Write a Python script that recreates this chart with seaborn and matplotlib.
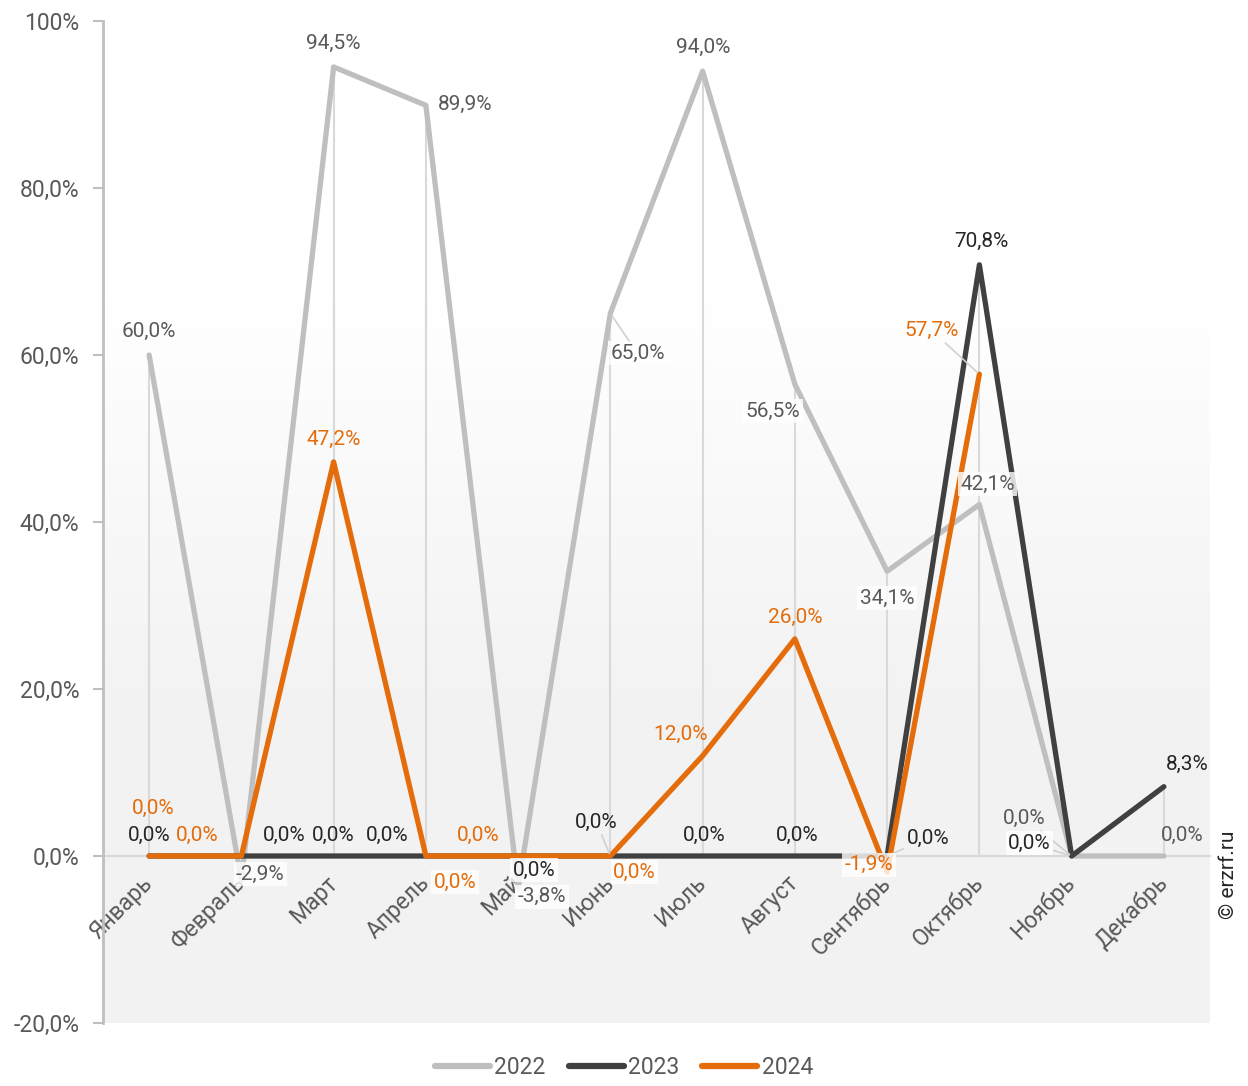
import numpy as np
import pandas as pd
import matplotlib
matplotlib.use("Agg")
import matplotlib.pyplot as plt
import seaborn as sns
from matplotlib.colors import LinearSegmentedColormap
from matplotlib.lines import Line2D

months = ["Январь", "Февраль", "Март", "Апрель", "Май", "Июнь",
          "Июль", "Август", "Сентябрь", "Октябрь", "Ноябрь", "Декабрь"]
years = ["2022", "2023", "2024"]
vals_2022 = [60.0, -2.9, 94.5, 89.9, -3.8, 65.0, 94.0, 56.5, 34.1, 42.1, 0.0, 0.0]
vals_2023 = [0.0, 0.0, 0.0, 0.0, 0.0, 0.0, 0.0, 0.0, 0.0, 70.8, 0.0, 8.3]
vals_2024 = [0.0, 0.0, 47.2, 0.0, 0.0, 0.0, 12.0, 26.0, -1.9, 57.7, np.nan, np.nan]
ytick_vals = [-20, 0, 20, 40, 60, 80, 100]
ytick_labels = ["-20,0%", "0,0%", "20,0%", "40,0%", "60,0%", "80,0%", "100%"]

line_colors = {"2022": "#bfbfbf", "2023": "#404040", "2024": "#e46c0a"}
label_colors = {"2022": "#595959", "2023": "#262626", "2024": "#e46c0a"}

# label offsets in pixels (dx, dy up) from each point
offsets = {
    "2022": [(0, 24), (19, 6), (0, 24), (39, 1), (24, -9), (27, -40),
             (1, 24), (-22, -27), (0, -27), (8, 20), (-47, 38), (18, 21)],
    "2023": [(0, 21), (43, 21), (0, 21), (-39, 21), (16, -14), (-14, 34),
             (2, 21), (2, 21), (41, 18), (2, 23), (-42, 13), (23, 22)],
    "2024": [(4, 48), (-44, 21), (0, 22), (29, -26), (-40, 21), (24, -16),
             (-22, 21), (0, 22), (-18, 7), (-48, 44), None, None],
}
boxed = {("2022", 1), ("2022", 4), ("2022", 5), ("2022", 7), ("2022", 8), ("2022", 9),
         ("2023", 4), ("2023", 10), ("2024", 3), ("2024", 5), ("2024", 8)}
leaders = {("2022", 5), ("2022", 10), ("2023", 5), ("2023", 8), ("2023", 10), ("2024", 9)}

series = {"2022": vals_2022, "2023": vals_2023, "2024": vals_2024}

sns.set_theme(style="white")
plt.rcParams["font.family"] = ["Roboto", "DejaVu Sans"]

rows = []
for y in years:
    for i, v in enumerate(series[y]):
        rows.append({"pos": i, "year": y, "value": v})
df = pd.DataFrame(rows).dropna()

fig = plt.figure(figsize=(12.48, 10.86), dpi=100)
ax = fig.add_axes([103 / 1248, 1 - 1023 / 1086, (1210 - 103) / 1248, (1023 - 21) / 1086])

# background gradient of the plot area
cmap = LinearSegmentedColormap.from_list("bg", [(0, "#f2f2f2"), (0.3, "#f2f2f2"), (0.72, "#ffffff"), (1, "#ffffff")])
grad = np.linspace(0, 1, 256).reshape(-1, 1)
ax.imshow(grad, extent=[-0.5, 11.5, -20, 100], origin="lower", aspect="auto", cmap=cmap, zorder=0)

# drop lines
for i in range(len(months)):
    m = np.nanmax([series[y][i] for y in years])
    if m > 0:
        ax.vlines(i, 0, m, color="#d9d9d9", lw=1.5, zorder=1)

sns.lineplot(data=df, x="pos", y="value", hue="year", palette=line_colors,
             linewidth=3.8, ax=ax, legend=False, sort=False, zorder=3,
             solid_capstyle="round", solid_joinstyle="round")

for y in years:
    for i, v in enumerate(series[y]):
        if np.isnan(v):
            continue
        dx, dy = offsets[y][i]
        txt = f"{v:.1f}%".replace(".", ",")
        kw = {}
        if (y, i) in boxed:
            kw["bbox"] = dict(boxstyle="square,pad=0.12", fc="white", ec="none", alpha=0.8)
        if (y, i) in leaders:
            kw["arrowprops"] = dict(arrowstyle="-", color="#d0d0d0", lw=1.2, shrinkA=0, shrinkB=2)
        ax.annotate(txt, (i, v), xytext=(dx, dy), textcoords="offset pixels",
                    ha="center", va="center", fontsize=15, color=label_colors[y],
                    zorder=5, **kw)

ax.spines["top"].set_visible(False)
ax.spines["right"].set_visible(False)
ax.spines["bottom"].set_position(("data", 0))
ax.spines["bottom"].set_color("#d9d9d9")
ax.spines["bottom"].set_linewidth(1.5)
ax.spines["bottom"].set_zorder(2)
ax.spines["left"].set_color("#bfbfbf")
ax.spines["left"].set_linewidth(2)

ax.set_xlim(-0.5, 11.5)
ax.set_ylim(-20, 100)
ax.set_xticks(range(len(months)))
ax.set_xticklabels(months)
ax.set_xticks(np.arange(-0.5, 12, 1), minor=True)
ax.set_yticks(ytick_vals)
ax.set_yticklabels(ytick_labels)
ax.set_xlabel("")
ax.set_ylabel("")

ax.tick_params(axis="x", which="major", length=0, pad=17, labelsize=16.5, labelcolor="#595959")
ax.tick_params(axis="x", which="minor", length=6, width=1.5, color="#d9d9d9", direction="out")
ax.tick_params(axis="y", length=7, width=1.5, color="#bfbfbf", pad=10, labelsize=16.5, labelcolor="#595959", left=True)
for lab in ax.get_xticklabels():
    lab.set_rotation(45)
    lab.set_ha("right")
    lab.set_va("center")
    lab.set_rotation_mode("anchor")

handles = [Line2D([0], [0], color=line_colors[y], lw=4.5, solid_capstyle="round") for y in years]
fig.legend(handles, years, loc="lower center", bbox_to_anchor=(0.5, -0.013), ncol=3, frameon=False,
           fontsize=16.5, labelcolor="#595959", handlelength=2.4, handletextpad=0.2, columnspacing=1.0)

fig.text(1228 / 1248, 1 - 875 / 1086, "© erzrf.ru", rotation=90, ha="center", va="center",
         fontsize=15, color="#262626")

fig.savefig("out.png", dpi=100)
